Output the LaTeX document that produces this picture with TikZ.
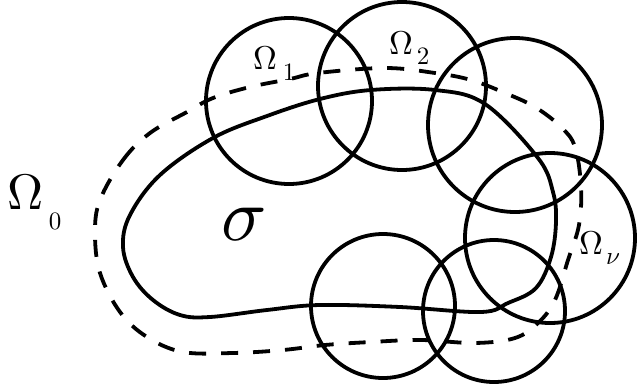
\documentclass[tikz,border=0pt]{standalone}
\usepackage{tikz}
\usetikzlibrary{calc}
\tikzset{
  ring/.style={draw=black,line width=3.8pt},
  shore/.style={draw=black,line width=3.8pt,line join=round},
  haze/.style={draw=black,line width=3.8pt,dash pattern=on 17pt off 15pt},
  biglabel/.style={inner sep=0pt,scale=5},
  midlabel/.style={inner sep=0pt,scale=3.3},
  sublabel/.style={inner sep=0pt,scale=2.5},
}

\begin{document}
\begin{tikzpicture}[x=1pt,y=-1pt]
  \useasboundingbox (0,0) rectangle (638,389);

  \draw[ring] (289,101) circle (83);
  \draw[ring] (402,86) circle (84);
  \draw[ring] (515,125) circle (87);
  \draw[ring] (550,238) circle (85);
  \draw[ring] (383,306) circle (72);
  \draw[ring] (494,311) circle (71);

  \draw[shore] plot[smooth cycle,tension=0.6] coordinates {
    (123,247) (133,277) (153,300) (180,315) (210,317) (267,310) (320,305)
    (400,307) (481,312) (508,303) (536,288) (551,257) (556,222) (553,192)
    (538,158) (485,104) (435,90) (371,90) (320,99) (267,116)
    (213,138) (160,175) (130,215)};

  \draw[haze] plot[smooth cycle,tension=0.6] coordinates {
    (100,200) (123,160) (150,133) (187,112) (213,98) (250,87) (290,79)
    (318,73) (385,68) (435,73) (471,80) (505,93) (535,107) (561,127)
    (575,147) (581,187) (579,225) (568,260) (555,300) (538,323) (515,338)
    (475,343) (421,340) (371,342) (325,345) (283,350) (233,353) (183,352)
    (147,337) (120,312) (100,273) (95,233)};

  \node[biglabel] (omzero) at (26,192) {$\Omega$};
  \node[sublabel] (omzerosub) at (55,221) {$0$};
  \node[midlabel] (omone) at (265,58) {$\Omega$};
  \node[sublabel] (omonesub) at (289,72) {$1$};
  \node[midlabel] (omtwo) at (401,43) {$\Omega$};
  \node[sublabel] (omtwosub) at (423,56) {$2$};
  \node[midlabel] (omnu) at (591,243) {$\Omega$};
  \node[sublabel] (omnusub) at (613,259) {$\nu$};
  \node[inner sep=0pt,scale=7.5] (sig) at (244,224) {$\sigma$};
\end{tikzpicture}
\end{document}
